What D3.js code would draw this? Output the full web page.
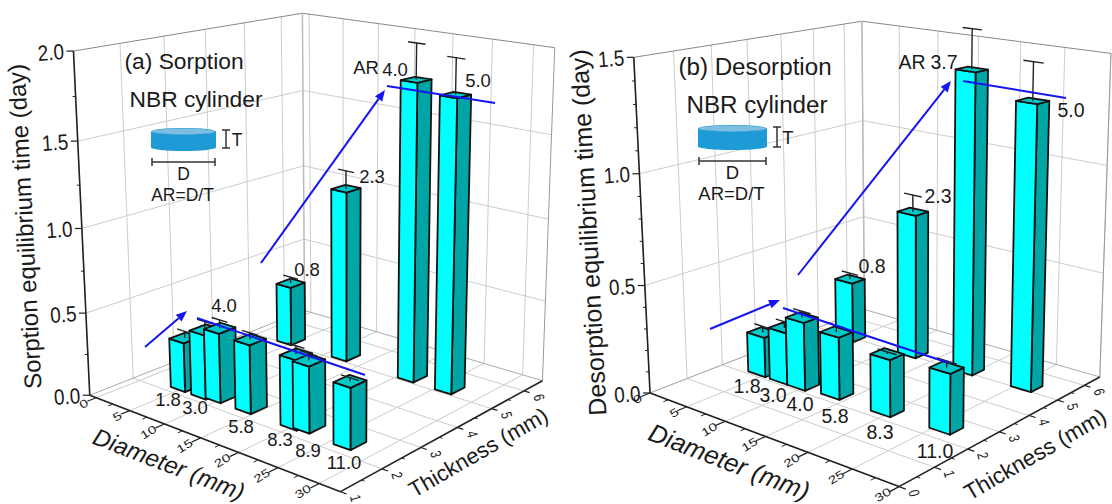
<!DOCTYPE html>
<html>
<head>
<meta charset="utf-8">
<script src="https://d3js.org/d3.v7.min.js"></script>
<style>
  html, body { margin: 0; background: #fff; }
  svg { display: block; }
  text { font-family: "Liberation Sans", Arial, sans-serif; fill: #1a1a1a; }
</style>
</head>
<body>
<script>
// panel a values
var arA = ["1.8", "3.0", "4.0", "5.8", "8.3", "8.9", "11.0", "0.8", "2.3", "4.0", "5.0"];
var diameterA = [4.8, 7.8, 9.6, 13.8, 19.9, 21.3, 26.7, 4.3, 12.1, 21.3, 26.2];
var thicknessA = [2.35, 2.35, 2.4, 2.4, 2.4, 2.45, 2.4, 5.2, 5.25, 5.25, 5.25];
var timeA = [0.30, 0.39, 0.42, 0.41, 0.41, 0.39, 0.355, 0.38, 1.07, 1.80, 1.75];
var errorA = [0.04, 0.05, 0.05, 0.04, 0.05, 0.04, 0.02, 0.04, 0.11, 0.21, 0.21];

// panel b values
var arB = ["1.8", "3.0", "4.0", "5.8", "8.3", "11.0", "0.8", "2.3", "3.7", "5.0"];
var diameterB = [4.3, 7.2, 9.5, 13.4, 19.5, 25.9, 4.5, 12.2, 19.2, 25.9];
var thicknessB = [2.3, 2.3, 2.3, 2.4, 2.4, 2.5, 5, 5.15, 5.15, 5.2];
var timeB = [0.19, 0.245, 0.32, 0.29, 0.26, 0.27, 0.30, 0.70, 1.41, 1.31];
var errorB = [0.03, 0.03, 0.03, 0.03, 0.01, 0.03, 0.03, 0.08, 0.18, 0.17];

// tick labels
var diameterTicks = [0, 5, 10, 15, 20, 25, 30];
var thicknessTicksA = [1, 2, 3, 4, 5, 6];
var thicknessTicksB = [0, 1, 2, 3, 4, 5, 6];
var timeTicksA = [0, 0.5, 1, 1.5, 2];
var timeTicksB = [0, 0.5, 1, 1.5];
var timeMinorA = [0.25, 0.75, 1.25, 1.75];
var timeMinorB = [0.1, 0.2, 0.3, 0.4, 0.6, 0.7, 0.8, 0.9, 1.1, 1.2, 1.3, 1.4];

var svg = d3.select("body").append("svg").attr("width", 1112).attr("height", 504);
var line = d3.line();

// fit a 3x4 projective camera to the box corners (least squares)
function fitCamera(pts) {
  var n = 11, A = d3.range(n).map(function () { return d3.range(n + 1).map(function () { return 0; }); });
  function add(row, b) {
    for (var i = 0; i < n; i++) {
      for (var j = 0; j < n; j++) A[i][j] += row[i] * row[j];
      A[i][n] += row[i] * b;
    }
  }
  pts.forEach(function (p) {
    var u = p[0], v = p[1], w = p[2], x = p[3], y = p[4];
    add([u, v, w, 1, 0, 0, 0, 0, -x * u, -x * v, -x * w], x);
    add([0, 0, 0, 0, u, v, w, 1, -y * u, -y * v, -y * w], y);
  });
  for (var c = 0; c < n; c++) {
    var best = c;
    for (var r = c + 1; r < n; r++) if (Math.abs(A[r][c]) > Math.abs(A[best][c])) best = r;
    var tmp = A[c]; A[c] = A[best]; A[best] = tmp;
    for (var r2 = 0; r2 < n; r2++) {
      if (r2 == c) continue;
      var f = A[r2][c] / A[c][c];
      for (var k = c; k <= n; k++) A[r2][k] -= f * A[c][k];
    }
  }
  return A.map(function (row, i) { return row[n] / row[i]; });
}

function drawPanel(cfg) {
  var g = svg.append("g");
  var xs = d3.scaleLinear().domain(cfg.dDomain).range([0, 1]);
  var ys = d3.scaleLinear().domain(cfg.tDomain).range([0, 1]);
  var zs = d3.scaleLinear().domain(cfg.vDomain).range([0, 1]);
  var cam = fitCamera(cfg.corners);

  function P(d, t, v) {
    var u = xs(d), w = ys(t), h = zs(v);
    var s = cam[8] * u + cam[9] * w + cam[10] * h + 1;
    return [(cam[0] * u + cam[1] * w + cam[2] * h + cam[3]) / s,
            (cam[4] * u + cam[5] * w + cam[6] * h + cam[7]) / s];
  }
  var d0 = cfg.dDomain[0], d1 = cfg.dDomain[1], t0 = cfg.tDomain[0], t1 = cfg.tDomain[1], v0 = 0, v1 = cfg.vDomain[1];

  function seg(a, b, color, w) {
    g.append("path").attr("d", line([a, b])).attr("fill", "none").attr("stroke", color).attr("stroke-width", w);
  }

  // grid on the two walls and the floor
  cfg.vTicks.filter(function (v) { return v > 0 && v < v1; }).forEach(function (v) {
    seg(P(d0, t0, v), P(d0, t1, v), "#ccc", 1);
    seg(P(d0, t1, v), P(d1, t1, v), "#ccc", 1);
  });
  diameterTicks.forEach(function (d) {
    seg(P(d, t0, 0), P(d, t1, 0), "#ccc", 1);
    seg(P(d, t1, 0), P(d, t1, v1), "#ccc", 1);
  });
  cfg.tTicks.forEach(function (t) {
    seg(P(d0, t, 0), P(d1, t, 0), "#ccc", 1);
    seg(P(d0, t, 0), P(d0, t, v1), "#ccc", 1);
  });

  // box edges
  seg(P(d0, t0, v1), P(d0, t1, v1), "#888", 1);
  seg(P(d0, t1, v1), P(d1, t1, v1), "#888", 1);
  seg(P(d0, t1, v0), P(d0, t1, v1), "#bbb", 1.5);
  seg(P(d1, t1, v0), P(d1, t1, v1), "#999", 1);
  seg(P(d0, t0, 0), P(d0, t1, 0), "#aaa", 1);
  seg(P(d0, t1, 0), P(d1, t1, 0), "#aaa", 1);

  // axes
  seg(P(d0, t0, 0), P(d0, t0, v1), "#222", 1.6);
  seg(P(d0, t0, 0), P(d1, t0, 0), "#222", 1.6);
  seg(P(d1, t0, 0), P(d1, t1, 0), "#222", 1.6);

  cfg.vTicks.forEach(function (v) {
    var p = P(d0, t0, v);
    seg(p, [p[0] - 7, p[1]], "#222", 1.2);
    g.append("text").text(d3.format(".1f")(v))
      .attr("transform", "translate(" + (p[0] - 9) + "," + (p[1] + 8) + ") rotate(-4) scale(.86,1)")
      .attr("text-anchor", "end").attr("font-size", 22);
  });
  cfg.vMinor.forEach(function (v) {
    var p = P(d0, t0, v);
    seg(p, [p[0] - 3, p[1]], "#222", 1);
  });
  diameterTicks.forEach(function (d, i) {
    var p = P(d, t0, 0), q = P(d, t0 - cfg.tickT, 0);
    seg(p, q, "#222", 1.2);
    if (i < diameterTicks.length - 1) {
      var m = P(d + 2.5, t0, 0), mq = P(d + 2.5, t0 - cfg.tickT * 0.5, 0);
      seg(m, mq, "#222", 1);
    }
    g.append("text").text(d)
      .attr("transform", "translate(" + (p[0] - 7) + "," + (p[1] + 7) + ") rotate(-32) scale(1,.75)")
      .attr("text-anchor", "end").attr("font-size", 15);
  });
  cfg.tTicks.forEach(function (t, i) {
    var p = P(d1, t, 0), q = P(d1 + cfg.tickD, t, 0);
    seg(p, q, "#222", 1.2);
    if (i < cfg.tTicks.length - 1) {
      var m = P(d1, t + 0.5, 0), mq = P(d1 + cfg.tickD * 0.5, t + 0.5, 0);
      seg(m, mq, "#222", 1);
    }
    g.append("text").text(t)
      .attr("transform", "translate(" + (p[0] + 10) + "," + (p[1] + 8) + ") rotate(75) scale(.75,1)")
      .attr("text-anchor", "middle").attr("font-size", 15);
  });

  // bars back to front, so the nearer ones cover the others
  var order = d3.range(cfg.ar.length).sort(function (a, b) {
    return d3.descending(Math.round(cfg.thickness[a]), Math.round(cfg.thickness[b])) || d3.ascending(cfg.diameter[a], cfg.diameter[b]);
  });
  order.forEach(function (i) {
    var d = cfg.diameter[i], t = cfg.thickness[i], v = cfg.time[i], e = cfg.error[i];
    var dl = d - cfg.halfD, dr = d + cfg.halfD, tl = t - cfg.halfT, tr = t + cfg.halfT;
    var faces = [
      { c: "#00a5a5", p: [P(dr, tl, 0), P(dr, tr, 0), P(dr, tr, v), P(dr, tl, v)] },
      { c: "#00ffff", p: [P(dl, tl, 0), P(dr, tl, 0), P(dr, tl, v), P(dl, tl, v)] },
      { c: "#00c8c8", p: [P(dl, tl, v), P(dr, tl, v), P(dr, tr, v), P(dl, tr, v)] }
    ];
    var bar = g.append("g");
    bar.selectAll("path").data(faces).enter().append("path")
      .attr("d", function (f) { return line(f.p) + "Z"; })
      .attr("fill", function (f) { return f.c; })
      .attr("stroke", "#111").attr("stroke-width", 1.8).attr("stroke-linejoin", "round");
    seg(P(d, t, v), P(d, t, v + e), "#222", 1.4);
    seg(P(d - cfg.capD, t, v + e), P(d + cfg.capD, t, v + e), "#222", 1.4);
  });

  // blue guide lines and arrows
  cfg.guides.forEach(function (s) { seg(s[0], s[1], "#1515f0", 2); });
  cfg.arrows.forEach(function (s) {
    var a = Math.atan2(s[1][1] - s[0][1], s[1][0] - s[0][0]), L = 11, W = 4.5;
    var b = [s[1][0] - L * Math.cos(a), s[1][1] - L * Math.sin(a)];
    seg(s[0], b, "#1515f0", 2);
    g.append("path").attr("fill", "#1515f0").attr("d", line([s[1],
      [b[0] - W * Math.sin(a), b[1] + W * Math.cos(a)],
      [b[0] + W * Math.sin(a), b[1] - W * Math.cos(a)]]) + "Z");
  });

  // AR labels
  cfg.ar.forEach(function (s, i) {
    var p = cfg.arPos[i];
    g.append("text").text(s).attr("x", p[0]).attr("y", p[1]).attr("text-anchor", "middle").attr("font-size", cfg.arSize);
  });
  g.append("text").text("AR").attr("x", cfg.arWord[0]).attr("y", cfg.arWord[1]).attr("text-anchor", "middle").attr("font-size", cfg.arSize);

  // titles
  function label(s, p, rot, size, italic) {
    g.append("text").text(s).attr("transform", "translate(" + p[0] + "," + p[1] + ") rotate(" + rot + ")")
      .attr("text-anchor", "middle").attr("font-size", size).attr("font-style", italic ? "italic" : "normal");
  }
  label(cfg.yTitle, cfg.yTitlePos, -93, cfg.yTitleSize);
  label("Diameter (mm)", cfg.dTitlePos, 21, cfg.dTitleSize, true);
  label("Thickness (mm)", cfg.tTitlePos, -30, cfg.tTitleSize);
  label(cfg.title, cfg.titlePos, 0, cfg.titleSize);
  label("NBR cylinder", cfg.namePos, 0, cfg.titleSize);

  // little cylinder sketch
  var c = cfg.icon, rx = c.w / 2, ry = 3.5;
  g.append("path").attr("fill", "#1e9bd7")
    .attr("d", "M" + c.x + "," + (c.y + ry) + "A" + rx + "," + ry + " 0 0 1 " + (c.x + c.w) + "," + (c.y + ry) +
      "V" + (c.y + c.h - ry) + "A" + rx + "," + ry + " 0 0 1 " + c.x + "," + (c.y + c.h - ry) + "Z");
  g.append("ellipse").attr("cx", c.x + rx).attr("cy", c.y + ry).attr("rx", rx - 1).attr("ry", ry - 0.5).attr("fill", "#7fbde2");
  var bx = c.x + c.w + 10, by = c.y + c.h + 11;
  seg([bx, c.y + 2], [bx, c.y + c.h - 3], "#333", 1.5);
  seg([bx - 4, c.y + 2], [bx + 4, c.y + 2], "#333", 1.5);
  seg([bx - 4, c.y + c.h - 3], [bx + 4, c.y + c.h - 3], "#333", 1.5);
  label("T", [bx + 11, c.y + c.h / 2 + 6], 0, c.font);
  seg([c.x + 1, by], [c.x + c.w - 1, by], "#333", 1.5);
  seg([c.x + 1, by - 4], [c.x + 1, by + 4], "#333", 1.5);
  seg([c.x + c.w - 1, by - 4], [c.x + c.w - 1, by + 4], "#333", 1.5);
  label("D", [c.x + c.w / 2, by + 18], 0, c.font);
  label("AR=D/T", [c.x + c.w / 2 - 1, by + 39], 0, c.font);
}

drawPanel({
  ar: arA, diameter: diameterA, thickness: thicknessA, time: timeA, error: errorA,
  dDomain: [-1, 32.5], tDomain: [1, 6.6], vDomain: [0, 2],
  tTicks: thicknessTicksA, vTicks: timeTicksA, vMinor: timeMinorA,
  // u, v, w, then pixel x, y
  corners: [[0, 0, 0, 87, 394], [1, 0, 0, 342, 492], [1, 1, 0, 540, 381], [0, 1, 0, 308, 311],
            [0, 0, 1, 75, 52], [1, 1, 1, 556, 47], [0, 1, 1, 300, 13]],
  halfD: 1.05, halfT: 0.2, capD: 1.1, tickT: 0.2, tickD: 0.7,
  guides: [[[197, 318], [365, 375]], [[387, 86], [495, 103]]],
  arrows: [[[145, 347], [187, 311]], [[261, 263], [385, 90]]],
  arPos: [[168, 406], [195, 414], [224, 312], [241, 433], [280, 446], [308, 457], [344, 469], [307, 276], [372, 183], [395, 76], [478, 87]],
  arWord: [366, 74], arSize: 18.5,
  yTitle: "Sorption equilibrium time (day)", yTitlePos: [33, 226], yTitleSize: 24,
  dTitlePos: [166, 472], dTitleSize: 24, tTitlePos: [482, 459], tTitleSize: 22,
  title: "(a) Sorption", titlePos: [184, 69], titleSize: 22.8, namePos: [196, 107],
  icon: { x: 151, y: 128, w: 65, h: 23, font: 17.5 }
});

drawPanel({
  ar: arB, diameter: diameterB, thickness: thicknessB, time: timeB, error: errorB,
  dDomain: [0, 30], tDomain: [0, 6.6], vDomain: [0, 1.5],
  tTicks: thicknessTicksB, vTicks: timeTicksB, vMinor: timeMinorB,
  corners: [[0, 0, 0, 648, 392], [1, 0, 0, 900, 487], [1, 1, 0, 1098, 377], [0, 1, 0, 867, 310],
            [0, 0, 1, 635, 58], [1, 1, 1, 1112, 53], [0, 1, 1, 860, 21]],
  halfD: 1.15, halfT: 0.21, capD: 1.1, tickT: 0.25, tickD: 0.7,
  guides: [[[783, 308], [949, 363]], [[963, 81], [1066, 98]]],
  arrows: [[[710, 329], [780, 300]], [[798, 275], [951, 81]]],
  arPos: [[747, 393], [773, 402], [800, 411], [835, 423], [880, 439], [935, 458], [872, 273], [938, 203], [944, 69], [1071, 117]],
  arWord: [912, 69], arSize: 19.5,
  yTitle: "Desorption equilibrium time (day)", yTitlePos: [597, 232], yTitleSize: 25,
  dTitlePos: [726, 470], dTitleSize: 25.5, tTitlePos: [1039, 461], tTitleSize: 22.5,
  title: "(b) Desorption", titlePos: [755, 75], titleSize: 24.2, namePos: [757, 113],
  icon: { x: 698, y: 125, w: 69, h: 25, font: 18.5 }
});
</script>
</body>
</html>
